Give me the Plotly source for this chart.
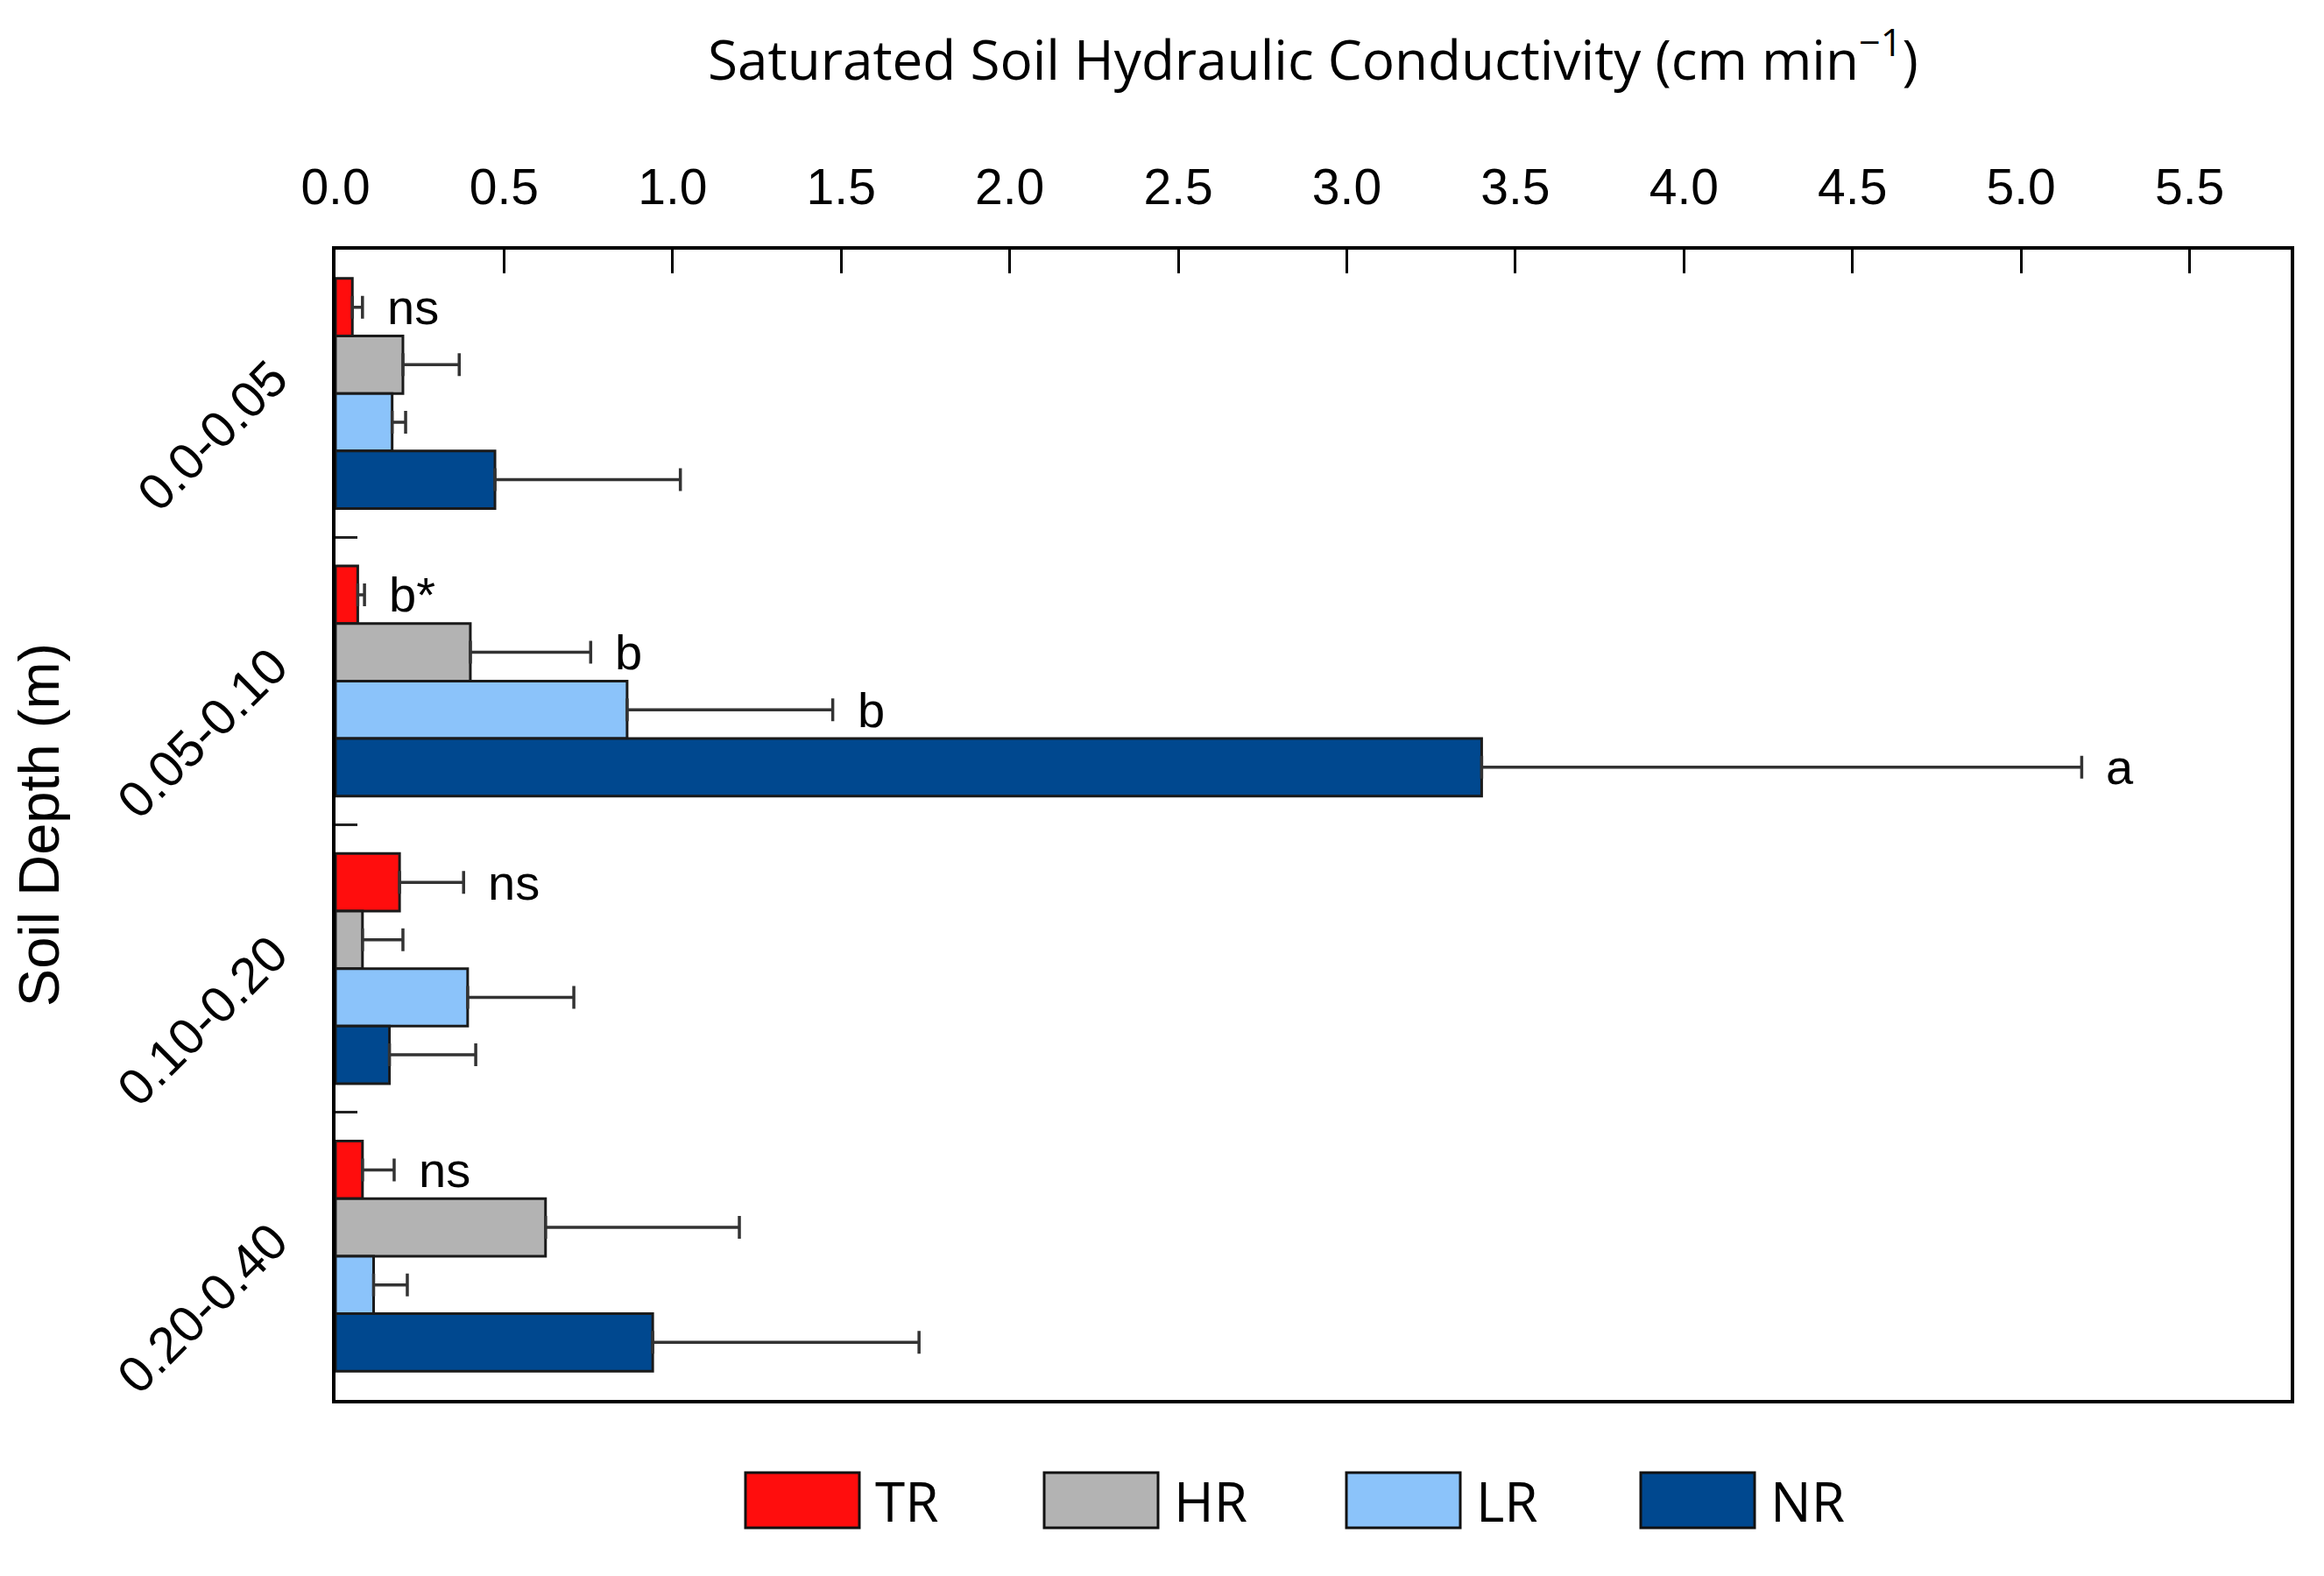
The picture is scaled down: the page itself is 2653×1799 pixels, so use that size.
import plotly.graph_objects as go

depths = ["0.0-0.05", "0.05-0.10", "0.10-0.20", "0.20-0.40"]
series_names = ["TR", "HR", "LR", "NR"]
colors = ["#FF0D0D", "#B3B3B3", "#8BC3FA", "#00488F"]

tr_vals = [0.05, 0.066, 0.19, 0.08]
tr_errs = [0.03, 0.02, 0.19, 0.094]
hr_vals = [0.20, 0.40, 0.08, 0.623]
hr_errs = [0.167, 0.357, 0.12, 0.575]
lr_vals = [0.168, 0.865, 0.392, 0.113]
lr_errs = [0.04, 0.61, 0.315, 0.10]
nr_vals = [0.473, 3.40, 0.16, 0.941]
nr_errs = [0.55, 1.78, 0.256, 0.79]

values = [tr_vals, hr_vals, lr_vals, nr_vals]
errors = [tr_errs, hr_errs, lr_errs, nr_errs]

# significance letters: (series index, depth index, text)
letters = [(0, 0, "ns"), (0, 1, "b*"), (1, 1, "b"), (2, 1, "b"), (3, 1, "a"),
           (0, 2, "ns"), (0, 3, "ns")]

x_ticks = [0.0, 0.5, 1.0, 1.5, 2.0, 2.5, 3.0, 3.5, 4.0, 4.5, 5.0, 5.5]
x_ticktext = ["0.0", "0.5", "1.0", "1.5", "2.0", "2.5", "3.0", "3.5", "4.0", "4.5", "5.0", "5.5"]

W, H = 2653, 1799
ML, MR, MT, MB = 375, 46, 277, 209
PW, PH = W - ML - MR, H - MT - MB

fig = go.Figure()
for name, col, v, e in zip(series_names, colors, values, errors):
    fig.add_trace(go.Bar(
        name=name, y=depths, x=v, orientation="h",
        marker=dict(color=col, line=dict(color="#1a1a1a", width=3)),
        error_x=dict(type="data", array=e, arrayminus=[0] * len(e), symmetric=False,
                     color="#333333", thickness=3.5, width=13),
        showlegend=False,
    ))

bargap = 0.2
nser = len(series_names)
bw = (1 - bargap) / nser
annotations = []
for si, di, txt in letters:
    xe = values[si][di] + errors[si][di]
    yy = di + (si - (nser - 1) / 2) * bw
    annotations.append(dict(x=xe, y=yy, xref="x", yref="y", text=txt, showarrow=False,
                            xanchor="left", yanchor="middle", xshift=26,
                            font=dict(family="Liberation Sans, Arial", size=56, color="black")))

# custom legend (large swatches)
leg_x0 = [843, 1184, 1529, 1865]
sw_w = 130
sw_y0, sw_y1 = 1673, 1736
shapes = []
for i, (name, col) in enumerate(zip(series_names, colors)):
    x0 = (leg_x0[i] - ML) / PW
    x1 = (leg_x0[i] + sw_w - ML) / PW
    y0 = (H - MB - sw_y1) / PH
    y1 = (H - MB - sw_y0) / PH
    shapes.append(dict(type="rect", xref="paper", yref="paper", x0=x0, x1=x1, y0=y0, y1=y1,
                       fillcolor=col, line=dict(color="#111111", width=3)))
    annotations.append(dict(x=(leg_x0[i] + sw_w + 16 - ML) / PW, y=(y0 + y1) / 2,
                            xref="paper", yref="paper", text=name, showarrow=False,
                            xanchor="left", yanchor="middle",
                            font=dict(family="Open Sans", size=62, color="black")))

fig.update_layout(
    width=W, height=H,
    margin=dict(l=ML, r=MR, t=MT, b=MB, autoexpand=False),
    paper_bgcolor="white", plot_bgcolor="white",
    barmode="group", bargap=bargap, bargroupgap=0,
    shapes=shapes, annotations=annotations,
    showlegend=False,
)
fig.update_xaxes(
    side="top", range=[0, 5.8], tickmode="array", tickvals=x_ticks, ticktext=x_ticktext,
    ticks="inside", ticklen=27, tickwidth=3, tickcolor="black", ticklabelstandoff=25,
    showline=True, linewidth=4, linecolor="black", mirror=True,
    showgrid=False, zeroline=False,
    tickfont=dict(family="Liberation Sans, Arial", size=57, color="black"),
    title=dict(text="Saturated Soil Hydraulic Conductivity (cm min<sup>\u22121</sup>)",
               font=dict(family="Open Sans", size=62, color="black"), standoff=71),
)
fig.update_yaxes(
    type="category", categoryorder="array", categoryarray=depths, autorange="reversed",
    tickson="boundaries", ticks="inside", ticklen=25, tickwidth=3, tickcolor="#222222",
    ticklabelstandoff=56, ticklabelshift=25,
    showline=True, linewidth=4, linecolor="black", mirror=True,
    showgrid=False, zeroline=False, tickangle=-45,
    tickfont=dict(family="Liberation Sans, Arial", size=58, color="black"),
    title=dict(text="Soil Depth (m)", font=dict(family="Liberation Sans, Arial", size=65, color="black"),
               standoff=38),
)

fig.write_html("out.html")
